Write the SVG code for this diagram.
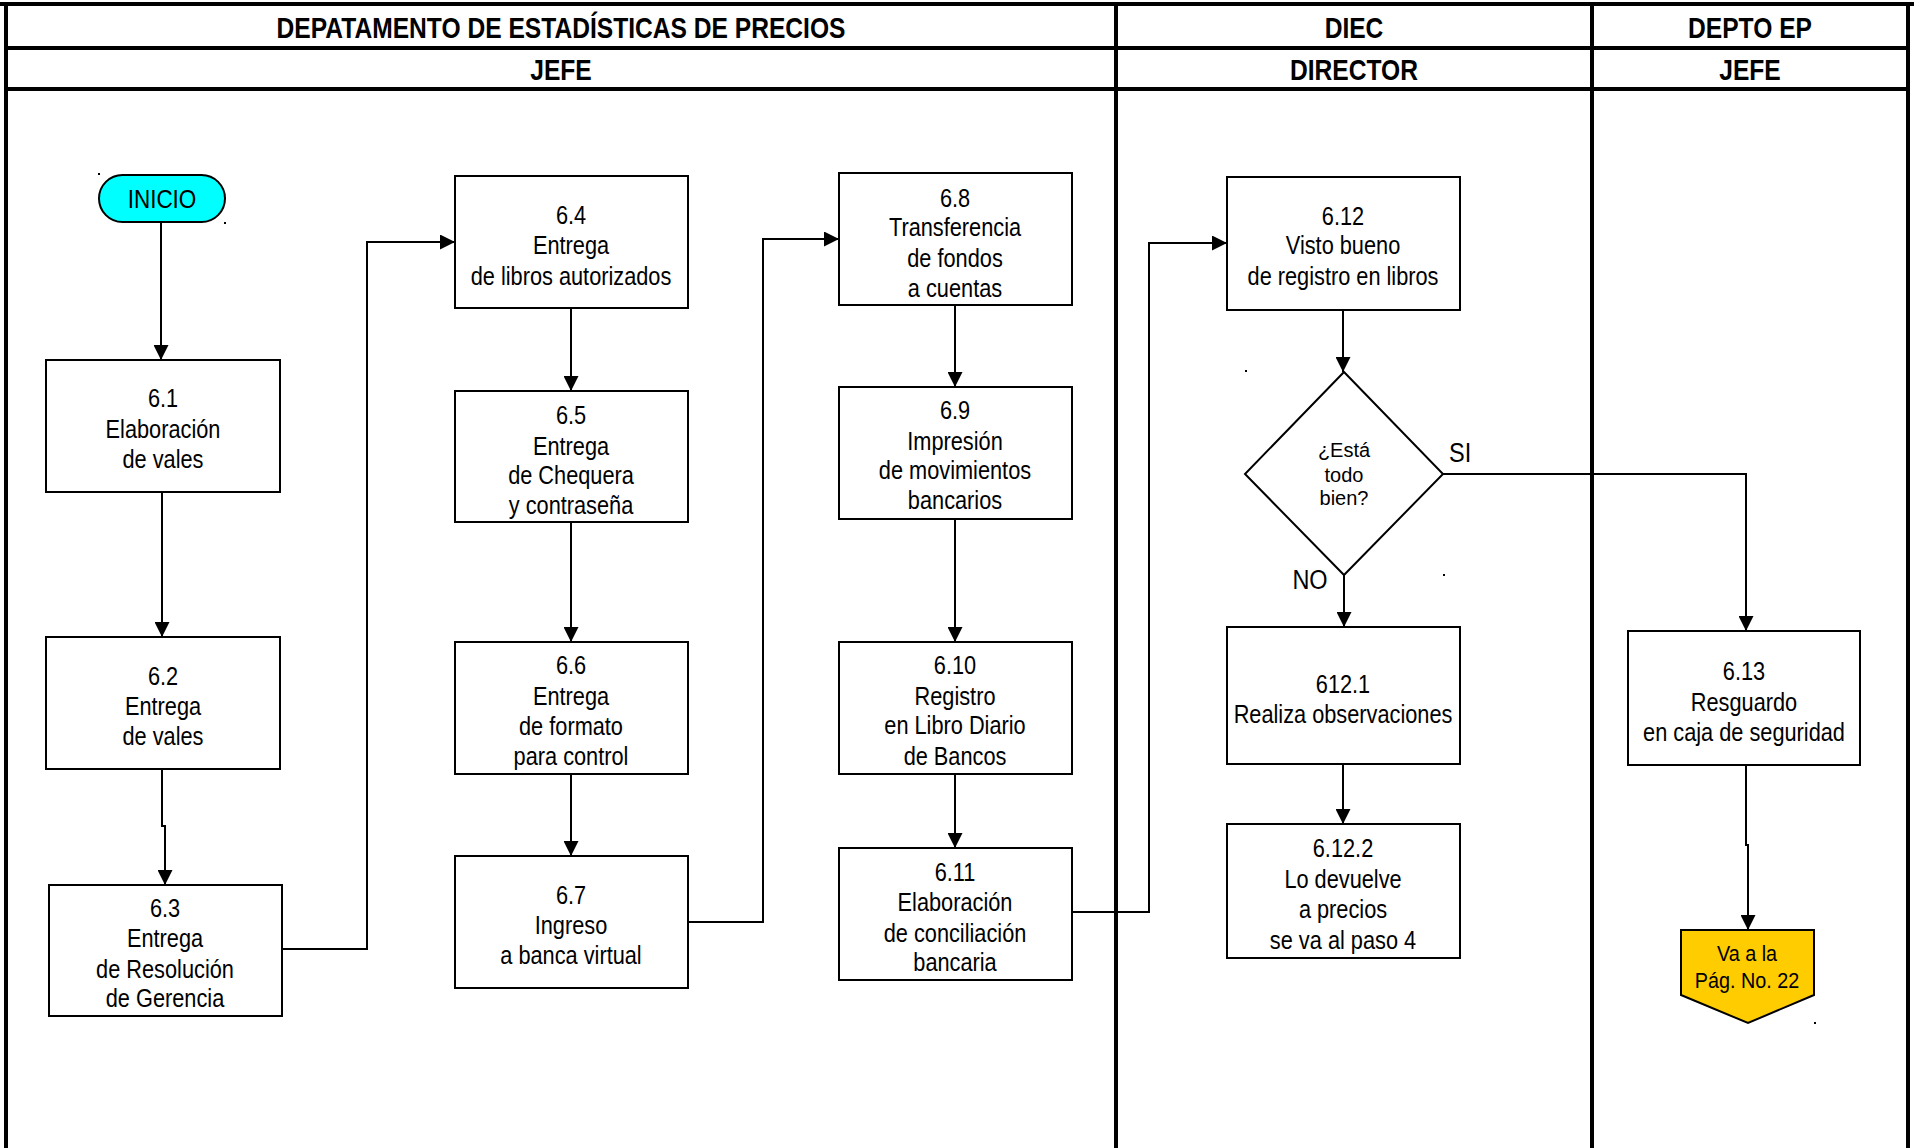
<svg xmlns="http://www.w3.org/2000/svg" width="1914" height="1148" viewBox="0 0 1914 1148">
<defs>
<marker id="arr" viewBox="0 0 10 10" refX="10" refY="5" markerWidth="18" markerHeight="15" markerUnits="userSpaceOnUse" orient="auto">
<path d="M0,0 L10,5 L0,10 z" fill="#000"/>
</marker>
</defs>
<style>
.lane{stroke:#000;stroke-width:4;fill:none}
.box{fill:#fff;stroke:#000;stroke-width:2}
.t{font-family:"Liberation Sans",Arial,sans-serif;font-size:25px;text-anchor:middle;fill:#000}
.h{font-family:"Liberation Sans",Arial,sans-serif;font-size:30px;text-anchor:middle;fill:#000;font-weight:bold}
.d{font-family:"Liberation Sans",Arial,sans-serif;font-size:20px;text-anchor:middle;fill:#000}
.c{stroke:#000;stroke-width:2;fill:none}
.ca{stroke:#000;stroke-width:2;fill:none;marker-end:url(#arr)}
</style>
<rect width="1914" height="1148" fill="#fff"/>
<g id="lanes">
<line class="lane" x1="0" y1="4" x2="1914" y2="4"/>
<line class="lane" x1="6" y1="48" x2="1908" y2="48"/>
<line class="lane" x1="6" y1="89" x2="1908" y2="89"/>
<line class="lane" x1="6" y1="4" x2="6" y2="1148"/>
<line class="lane" x1="1116" y1="4" x2="1116" y2="1148"/>
<line class="lane" x1="1592" y1="4" x2="1592" y2="1148"/>
<line class="lane" x1="1908" y1="4" x2="1908" y2="1148"/>
<g transform="translate(561,0) scale(0.82,1)"><text class="h" x="0" y="38">DEPATAMENTO DE ESTADÍSTICAS DE PRECIOS</text><text class="h" x="0" y="80">JEFE</text></g>
<g transform="translate(1354,0) scale(0.82,1)"><text class="h" x="0" y="38">DIEC</text><text class="h" x="0" y="80">DIRECTOR</text></g>
<g transform="translate(1750,0) scale(0.82,1)"><text class="h" x="0" y="38">DEPTO EP</text><text class="h" x="0" y="80">JEFE</text></g>
</g>
<g id="connectors">
<path class="ca" d="M161,222 L161,360"/>
<path class="ca" d="M162,492 L162,637"/>
<path class="ca" d="M162,769 L162,826 L165,826 L165,885"/>
<path class="ca" d="M282,949 L367,949 L367,242 L455,242"/>
<path class="ca" d="M571,308 L571,391"/>
<path class="ca" d="M571,522 L571,642"/>
<path class="ca" d="M571,774 L571,856"/>
<path class="ca" d="M688,922 L763,922 L763,239 L839,239"/>
<path class="ca" d="M955,305 L955,387"/>
<path class="ca" d="M955,519 L955,642"/>
<path class="ca" d="M955,774 L955,848"/>
<path class="ca" d="M1072,912 L1149,912 L1149,243 L1227,243"/>
<path class="ca" d="M1343,310 L1343,372"/>
<path class="ca" d="M1443,474 L1746,474 L1746,631"/>
<path class="ca" d="M1344,575 L1344,627"/>
<path class="ca" d="M1343,764 L1343,824"/>
<path class="ca" d="M1746,765 L1746,845 L1748,845 L1748,930"/>
<g transform="translate(1449,0) scale(0.87,1)"><text class="t" x="0" y="462" style="text-anchor:start;font-size:27px">SI</text></g>
<g transform="translate(1310,0) scale(0.87,1)"><text class="t" x="0" y="589" style="font-size:27px">NO</text></g>
</g>
<g id="inicio">
<rect x="99" y="175" width="126" height="47" rx="23.5" fill="#00ffff" stroke="#000" stroke-width="2"/>
<g transform="translate(162,0) scale(0.9,1)"><text class="t" x="0" y="208">INICIO</text></g>
<rect x="98" y="173" width="2" height="2" fill="#000"/>
<rect x="224" y="222" width="2" height="2" fill="#000"/>
</g>
<g id="n6_1">
<rect class="box" x="46" y="360" width="234" height="132"/>
<g transform="translate(163,0) scale(0.87,1)">
<text class="t" x="0" y="407">6.1</text>
<text class="t" x="0" y="438">Elaboración</text>
<text class="t" x="0" y="468">de vales</text>
</g>
</g>
<g id="n6_2">
<rect class="box" x="46" y="637" width="234" height="132"/>
<g transform="translate(163,0) scale(0.87,1)">
<text class="t" x="0" y="685">6.2</text>
<text class="t" x="0" y="715">Entrega</text>
<text class="t" x="0" y="745">de vales</text>
</g>
</g>
<g id="n6_3">
<rect class="box" x="49" y="885" width="233" height="131"/>
<g transform="translate(165,0) scale(0.87,1)">
<text class="t" x="0" y="917">6.3</text>
<text class="t" x="0" y="947">Entrega</text>
<text class="t" x="0" y="978">de Resolución</text>
<text class="t" x="0" y="1007">de Gerencia</text>
</g>
</g>
<g id="n6_4">
<rect class="box" x="455" y="176" width="233" height="132"/>
<g transform="translate(571,0) scale(0.87,1)">
<text class="t" x="0" y="224">6.4</text>
<text class="t" x="0" y="254">Entrega</text>
<text class="t" x="0" y="285">de libros autorizados</text>
</g>
</g>
<g id="n6_5">
<rect class="box" x="455" y="391" width="233" height="131"/>
<g transform="translate(571,0) scale(0.87,1)">
<text class="t" x="0" y="424">6.5</text>
<text class="t" x="0" y="455">Entrega</text>
<text class="t" x="0" y="484">de Chequera</text>
<text class="t" x="0" y="514">y contraseña</text>
</g>
</g>
<g id="n6_6">
<rect class="box" x="455" y="642" width="233" height="132"/>
<g transform="translate(571,0) scale(0.87,1)">
<text class="t" x="0" y="674">6.6</text>
<text class="t" x="0" y="705">Entrega</text>
<text class="t" x="0" y="735">de formato</text>
<text class="t" x="0" y="765">para control</text>
</g>
</g>
<g id="n6_7">
<rect class="box" x="455" y="856" width="233" height="132"/>
<g transform="translate(571,0) scale(0.87,1)">
<text class="t" x="0" y="904">6.7</text>
<text class="t" x="0" y="934">Ingreso</text>
<text class="t" x="0" y="964">a banca virtual</text>
</g>
</g>
<g id="n6_8">
<rect class="box" x="839" y="173" width="233" height="132"/>
<g transform="translate(955,0) scale(0.87,1)">
<text class="t" x="0" y="207">6.8</text>
<text class="t" x="0" y="236">Transferencia</text>
<text class="t" x="0" y="267">de fondos</text>
<text class="t" x="0" y="297">a cuentas</text>
</g>
</g>
<g id="n6_9">
<rect class="box" x="839" y="387" width="233" height="132"/>
<g transform="translate(955,0) scale(0.87,1)">
<text class="t" x="0" y="419">6.9</text>
<text class="t" x="0" y="450">Impresión</text>
<text class="t" x="0" y="479">de movimientos</text>
<text class="t" x="0" y="509">bancarios</text>
</g>
</g>
<g id="n6_10">
<rect class="box" x="839" y="642" width="233" height="132"/>
<g transform="translate(955,0) scale(0.87,1)">
<text class="t" x="0" y="674">6.10</text>
<text class="t" x="0" y="705">Registro</text>
<text class="t" x="0" y="734">en Libro Diario</text>
<text class="t" x="0" y="765">de Bancos</text>
</g>
</g>
<g id="n6_11">
<rect class="box" x="839" y="848" width="233" height="132"/>
<g transform="translate(955,0) scale(0.87,1)">
<text class="t" x="0" y="881">6.11</text>
<text class="t" x="0" y="911">Elaboración</text>
<text class="t" x="0" y="942">de conciliación</text>
<text class="t" x="0" y="971">bancaria</text>
</g>
</g>
<g id="n6_12">
<rect class="box" x="1227" y="177" width="233" height="133"/>
<g transform="translate(1343,0) scale(0.87,1)">
<text class="t" x="0" y="225">6.12</text>
<text class="t" x="0" y="254">Visto bueno</text>
<text class="t" x="0" y="285">de registro en libros</text>
</g>
</g>
<g id="decision">
<polygon class="box" points="1344,372 1443,474 1344,575 1245,474"/>
<text class="d" x="1344" y="457">¿Está</text>
<text class="d" x="1344" y="482">todo</text>
<text class="d" x="1344" y="505">bien?</text>
<rect x="1245" y="370" width="2" height="2" fill="#000"/>
<rect x="1443" y="574" width="2" height="2" fill="#000"/>
</g>
<g id="n612_1">
<rect class="box" x="1227" y="627" width="233" height="137"/>
<g transform="translate(1343,0) scale(0.87,1)">
<text class="t" x="0" y="693">612.1</text>
<text class="t" x="0" y="723">Realiza observaciones</text>
</g>
</g>
<g id="n6_12_2">
<rect class="box" x="1227" y="824" width="233" height="134"/>
<g transform="translate(1343,0) scale(0.87,1)">
<text class="t" x="0" y="857">6.12.2</text>
<text class="t" x="0" y="888">Lo devuelve</text>
<text class="t" x="0" y="918">a precios</text>
<text class="t" x="0" y="949">se va al paso 4</text>
</g>
</g>
<g id="n6_13">
<rect class="box" x="1628" y="631" width="232" height="134"/>
<g transform="translate(1744,0) scale(0.87,1)">
<text class="t" x="0" y="680">6.13</text>
<text class="t" x="0" y="711">Resguardo</text>
<text class="t" x="0" y="741">en caja de seguridad</text>
</g>
</g>
<g id="offpage">
<polygon points="1681,930 1814,930 1814,995 1748,1023 1681,995" fill="#ffcc00" stroke="#000" stroke-width="2"/>
<g transform="translate(1747,0) scale(0.9,1)">
<text class="t" x="0" y="961" style="font-size:22px">Va a la</text>
<text class="t" x="0" y="988" style="font-size:22px">Pág. No. 22</text>
</g>
<rect x="1814" y="1022" width="2" height="2" fill="#000"/>
</g>
</svg>
